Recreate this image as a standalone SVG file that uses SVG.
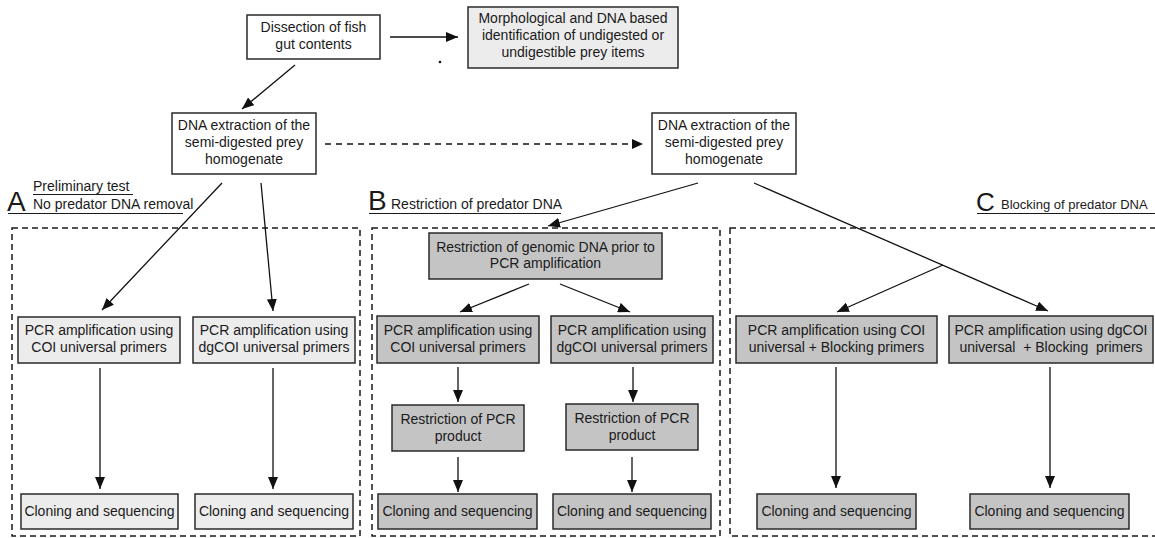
<svg xmlns="http://www.w3.org/2000/svg" width="1155" height="538" viewBox="0 0 1155 538">
<defs>
<marker id="ah" markerUnits="userSpaceOnUse" markerWidth="12" markerHeight="10" refX="12" refY="5" orient="auto">
<path d="M0,0 L12,5 L0,10 z" fill="#111"/>
</marker>
<style>
.t{font-family:"Liberation Sans",Arial,sans-serif;font-size:14px;fill:#1a1a1a;text-anchor:middle}
.l{font-family:"Liberation Sans",Arial,sans-serif;font-size:14px;fill:#1a1a1a}
.big{font-family:"Liberation Sans",Arial,sans-serif;font-size:28px;fill:#1a1a1a}
.w{fill:#ffffff;stroke:#2a2a2a;stroke-width:1.5}
.lg{fill:#ececec;stroke:#2a2a2a;stroke-width:1.5}
.g{fill:#c4c4c4;stroke:#2a2a2a;stroke-width:1.5}
.c{stroke:#111;stroke-width:1.3;fill:none;marker-end:url(#ah)}
.d{stroke:#111;stroke-width:1.3;fill:none;stroke-dasharray:6,5}
.frame{fill:none;stroke:#1a1a1a;stroke-width:1.5;stroke-dasharray:6,4}
.u{stroke:#1a1a1a;stroke-width:1.2}
</style>
</defs>
<rect width="1155" height="538" fill="#ffffff"/>

<g id="frames">
<rect class="frame" x="12" y="228" width="348" height="308"/>
<rect class="frame" x="372" y="228" width="348" height="308"/>
<rect class="frame" x="730" y="228" width="440" height="308"/>
</g>

<g id="labels">
<text class="big" x="7" y="211">A</text>
<text class="l" x="33" y="191">Preliminary test</text>
<line class="u" x1="33" y1="194.5" x2="133" y2="194.5"/>
<text class="l" x="33" y="209">No predator DNA removal</text>
<line class="u" x1="8" y1="213.5" x2="183" y2="213.5"/>
<text class="big" x="368" y="210">B</text>
<text class="l" x="391" y="209">Restriction of predator DNA</text>
<line class="u" x1="369" y1="213.5" x2="561" y2="213.5"/>
<text class="big" x="976" y="211" style="font-size:26px">C</text>
<text class="l" x="1001" y="209" style="font-size:13px">Blocking of predator DNA</text>
<line class="u" x1="977" y1="213.5" x2="1155" y2="213.5"/>
<circle cx="440" cy="62" r="1.3" fill="#111"/>
</g>

<g id="connectors">
<line class="c" x1="390" y1="37" x2="458" y2="37"/>
<line class="c" x1="295" y1="65" x2="242" y2="109"/>
<line class="d" x1="325" y1="144" x2="632" y2="144"/>
<path d="M632,139 L643,144 L632,149 z" fill="#111"/>
<line class="c" x1="222" y1="183" x2="102" y2="310"/>
<line class="c" x1="261" y1="183" x2="273" y2="311"/>
<line class="c" x1="100" y1="368" x2="100" y2="489"/>
<line class="c" x1="273" y1="368" x2="273" y2="489"/>
<line class="c" x1="698" y1="183" x2="548" y2="226"/>
<line class="c" x1="529" y1="284" x2="460" y2="312"/>
<line class="c" x1="560" y1="284" x2="630" y2="312"/>
<line class="c" x1="458" y1="367" x2="458" y2="402"/>
<line class="c" x1="633" y1="367" x2="633" y2="402"/>
<line class="c" x1="458" y1="457" x2="458" y2="492"/>
<line class="c" x1="632" y1="457" x2="632" y2="492"/>
<line class="c" x1="754" y1="183" x2="1048" y2="311"/>
<line class="c" x1="943" y1="265" x2="837" y2="312"/>
<line class="c" x1="836" y1="367" x2="836" y2="488"/>
<line class="c" x1="1050" y1="367" x2="1050" y2="488"/>
</g>

<g id="dissection">
<rect class="w" x="247" y="15" width="133" height="44"/>
<text class="t" x="313.5" y="31.5">Dissection of fish</text>
<text class="t" x="313.5" y="48.5">gut contents</text>
</g>
<g id="morphological">
<rect class="lg" x="468" y="7" width="210" height="61"/>
<text class="t" x="573" y="23">Morphological and DNA based</text>
<text class="t" x="573" y="40">identification of undigested or</text>
<text class="t" x="573" y="57">undigestible prey items</text>
</g>
<g id="dna1">
<rect class="w" x="172" y="113" width="144" height="61"/>
<text class="t" x="244" y="130">DNA extraction of the</text>
<text class="t" x="244" y="147">semi-digested prey</text>
<text class="t" x="244" y="164">homogenate</text>
</g>
<g id="dna2">
<rect class="w" x="652" y="113" width="144" height="61"/>
<text class="t" x="724" y="130">DNA extraction of the</text>
<text class="t" x="724" y="147">semi-digested prey</text>
<text class="t" x="724" y="164">homogenate</text>
</g>

<g id="a-pcr-coi">
<rect class="lg" x="18" y="317" width="162" height="46"/>
<text class="t" x="99" y="335">PCR amplification using</text>
<text class="t" x="99" y="352">COI universal primers</text>
</g>
<g id="a-pcr-dgcoi">
<rect class="lg" x="193" y="317" width="162" height="46"/>
<text class="t" x="274" y="335">PCR amplification using</text>
<text class="t" x="274" y="352">dgCOI universal primers</text>
</g>
<g id="a-clone-1">
<rect class="lg" x="21" y="494" width="157" height="35"/>
<text class="t" x="99.5" y="515.5">Cloning and sequencing</text>
</g>
<g id="a-clone-2">
<rect class="lg" x="195" y="494" width="158" height="35"/>
<text class="t" x="274" y="515.5">Cloning and sequencing</text>
</g>

<g id="b-restriction">
<rect class="g" x="429" y="233" width="233" height="46"/>
<text class="t" x="545.5" y="252">Restriction of genomic DNA prior to</text>
<text class="t" x="545.5" y="268">PCR amplification</text>
</g>
<g id="b-pcr-coi">
<rect class="g" x="377" y="316" width="162" height="47"/>
<text class="t" x="458" y="335">PCR amplification using</text>
<text class="t" x="458" y="352">COI universal primers</text>
</g>
<g id="b-pcr-dgcoi">
<rect class="g" x="551" y="316" width="162" height="47"/>
<text class="t" x="632" y="335">PCR amplification using</text>
<text class="t" x="632" y="352">dgCOI universal primers</text>
</g>
<g id="b-rpcr-1">
<rect class="g" x="392" y="405" width="132" height="46"/>
<text class="t" x="458" y="424">Restriction of PCR</text>
<text class="t" x="458" y="441">product</text>
</g>
<g id="b-rpcr-2">
<rect class="g" x="566" y="404" width="132" height="46"/>
<text class="t" x="632" y="423">Restriction of PCR</text>
<text class="t" x="632" y="440">product</text>
</g>
<g id="b-clone-1">
<rect class="g" x="378" y="494" width="159" height="35"/>
<text class="t" x="457.5" y="515.5">Cloning and sequencing</text>
</g>
<g id="b-clone-2">
<rect class="g" x="553" y="494" width="158" height="35"/>
<text class="t" x="632" y="515.5">Cloning and sequencing</text>
</g>

<g id="c-pcr-coi">
<rect class="g" x="736" y="316" width="201" height="47"/>
<text class="t" x="836.5" y="335">PCR amplification using COI</text>
<text class="t" x="836.5" y="352">universal + Blocking primers</text>
</g>
<g id="c-pcr-dgcoi">
<rect class="g" x="949" y="316" width="204" height="47"/>
<text class="t" x="1051" y="335">PCR amplification using dgCOI</text>
<text class="t" x="1051" y="352" xml:space="preserve">universal  + Blocking  primers</text>
</g>
<g id="c-clone-1">
<rect class="g" x="757" y="494" width="159" height="35"/>
<text class="t" x="836.5" y="515.5">Cloning and sequencing</text>
</g>
<g id="c-clone-2">
<rect class="g" x="970" y="494" width="159" height="35"/>
<text class="t" x="1049.5" y="515.5">Cloning and sequencing</text>
</g>
</svg>
